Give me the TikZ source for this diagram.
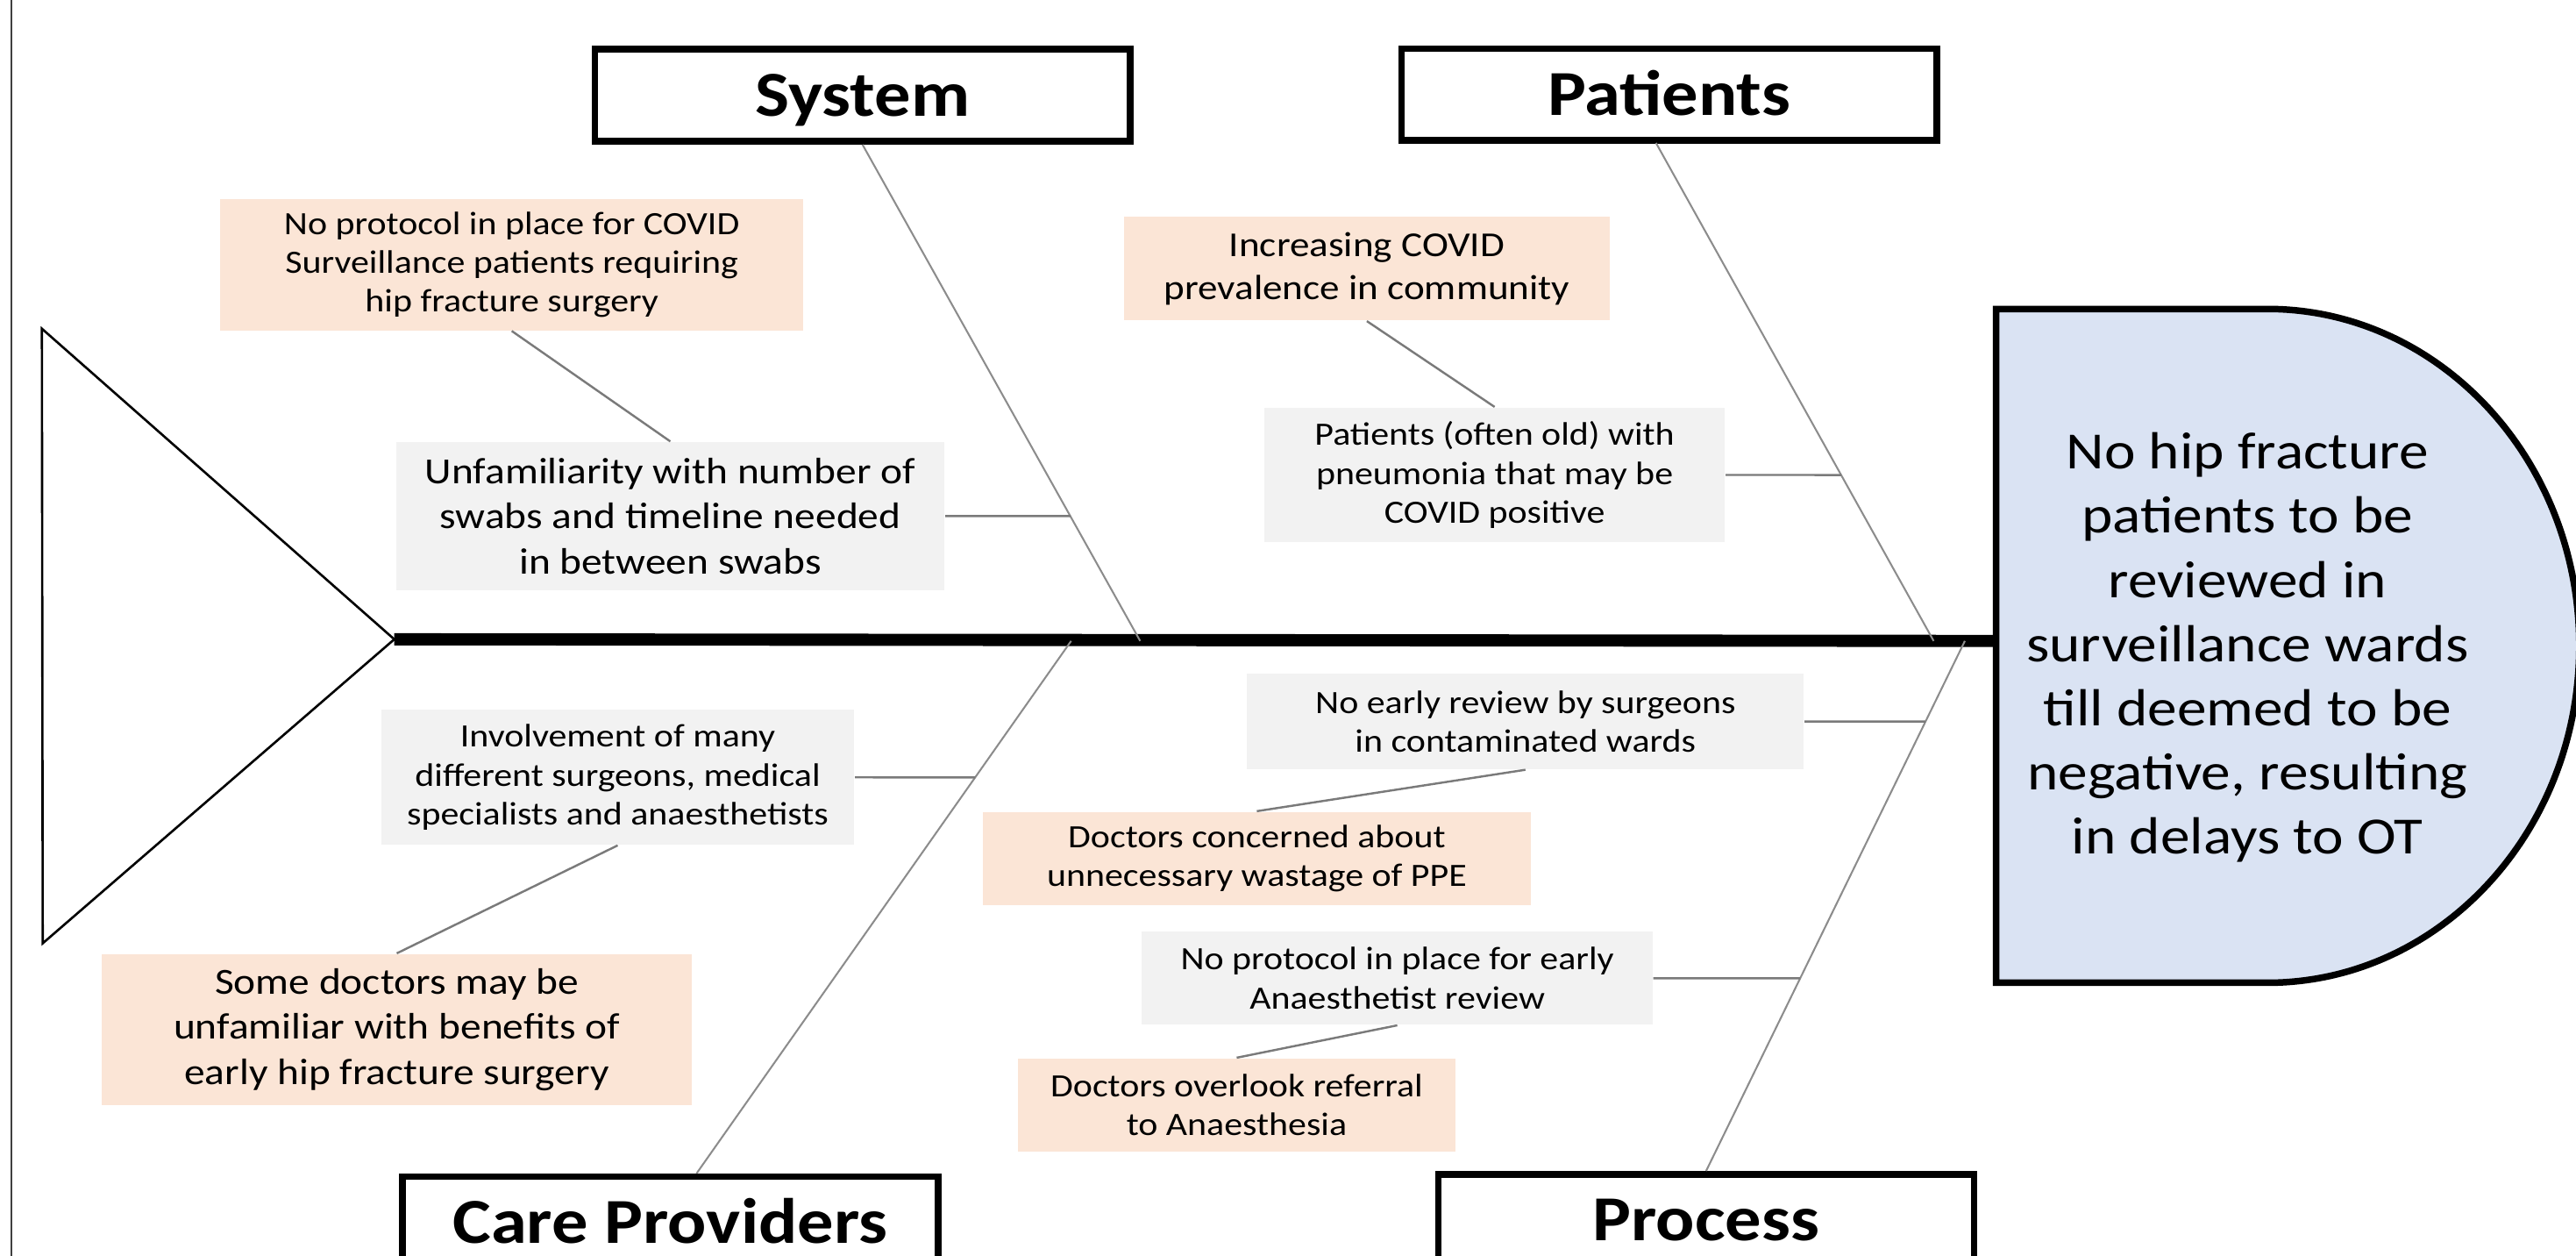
\documentclass[tikz,border=0pt]{standalone}
\usepackage{fontspec}
\setmainfont{Carlito}[FakeStretch=1.13]
\definecolor{peach}{HTML}{FBE5D6}
\definecolor{lightbg}{HTML}{F2F2F2}
\definecolor{resblue}{HTML}{DAE3F3}
\definecolor{bonegrey}{HTML}{8C8C8C}
\definecolor{linkgrey}{HTML}{7A7A7A}
\begin{document}
\begin{tikzpicture}[x=0.5pt,y=-0.5pt,
  cause/.style={inner sep=0pt, align=center, font=\fontsize{9.9}{11.8}\selectfont},
  causebig/.style={cause, font=\fontsize{11.2}{13.75}\selectfont},
  causemid/.style={cause, font=\fontsize{10.65}{13}\selectfont},
  peachbox/.style={fill=peach},
  greybox/.style={fill=lightbg},
  catbox/.style={draw=black, line width=2pt, fill=white, minimum width=163pt, minimum height=28pt, inner sep=0pt, text height=12.6pt, text depth=0pt, font=\fontsize{19.5}{23}\selectfont\bfseries},
  bone/.style={draw=bonegrey, line width=0.55pt},
  link/.style={draw=linkgrey, line width=0.65pt}]
\useasboundingbox (0,0) rectangle (1568,764);
\clip (0,0) rectangle (1568,764);

% frame line on the left
\draw[line width=0.6pt, black!75] (7,0) -- (7,764);

% fish tail and spine
\coordinate (tailTop) at (25.5,200);
\coordinate (tail) at (240,389);
\coordinate (tailBot) at (26,574);
\coordinate (resL) at (1214,390);
\draw[line width=0.7pt, line join=miter] (tailTop) -- (tail) -- (tailBot) -- cycle;
\draw[line width=3.7pt] (tail) -- (resL);

% result (head)
\draw[line width=2pt, fill=resblue] (1215,188) -- (1380,188)
   arc[start angle=90, end angle=-90, x radius=95pt, y radius=102.5pt]
   -- (1215,598) -- cycle;
\node[inner sep=0pt, align=center, font=\fontsize{15.9}{19.5}\selectfont] (res) at (1368,394)
  {No hip fracture\\patients to be\\reviewed in\\surveillance wards\\till deemed to be\\negative, resulting\\in delays to OT};

% category boxes
\node[catbox] (sys) at (525,58) {System};
\node[catbox] (pat) at (1016,57.5) {Patients};
\node[catbox] (cp) at (408,744) {Care Providers};
\node[catbox] (pro) at (1038.5,742.5) {Process};

% bones
\coordinate (sysEnd) at (694,390);
\coordinate (patStart) at (1008,87);
\coordinate (patEnd) at (1177,390);
\coordinate (cpStart) at (424,714);
\coordinate (cpEnd) at (652,390);
\coordinate (proEnd) at (1196,390);
\draw[bone] (sys.south) -- (sysEnd);
\draw[bone] (patStart) -- (patEnd);
\draw[bone] (cpStart) -- (cpEnd);
\draw[bone] (pro.north) -- (proEnd);

% cause boxes
\node[cause, peachbox, minimum width=177.5pt, minimum height=40pt] (A) at (311.5,161)
  {No protocol in place for COVID\\Surveillance patients requiring\\hip fracture surgery};
\node[causebig, greybox, minimum width=167pt, minimum height=45pt] (B) at (408,314)
  {Unfamiliarity with number of\\swabs and timeline needed\\in between swabs};
\node[causemid, peachbox, minimum width=148pt, minimum height=31.5pt] (C) at (832,163.5)
  {Increasing COVID\\prevalence in community};
\node[cause, greybox, minimum width=140.25pt, minimum height=41pt] (D) at (909.75,289)
  {Patients (often old) with\\pneumonia that may be\\COVID positive};
\node[cause, greybox, minimum width=169.5pt, minimum height=29pt] (E) at (928.5,439)
  {No early review by surgeons\\in contaminated wards};
\node[cause, peachbox, minimum width=167pt, minimum height=28.5pt] (F) at (765,522.5)
  {Doctors concerned about\\unnecessary wastage of PPE};
\node[cause, greybox, minimum width=155.5pt, minimum height=28.25pt] (G) at (850.5,595.25)
  {No protocol in place for early\\Anaesthetist review};
\node[cause, peachbox, minimum width=133.25pt, minimum height=28.5pt] (H) at (752.75,672.5)
  {Doctors overlook referral\\to Anaesthesia};
\node[cause, greybox, minimum width=144pt, minimum height=41pt] (I) at (376,473)
  {Involvement of many\\different surgeons, medical\\specialists and anaesthetists};
\node[causebig, peachbox, minimum width=179.5pt, minimum height=46pt] (J) at (241.5,626.5)
  {Some doctors may be\\unfamiliar with benefits of\\early hip fracture surgery};

% links between causes
\draw[link] (A.south) -- (B.north);
\draw[link] (C.south) -- (D.north);
\draw[link] (E.south) -- (F.north);
\draw[link] (G.south) -- (H.north);
\draw[link] (I.south) -- (J.north);

% links from causes to bones
\draw[link] (B.east) -- (intersection of B.west--B.east and sys.south--sysEnd);
\draw[link] (D.east) -- (intersection of D.west--D.east and patStart--patEnd);
\draw[link] (E.east) -- (intersection of E.west--E.east and pro.north--proEnd);
\draw[link] (G.east) -- (intersection of G.west--G.east and pro.north--proEnd);
\draw[link] (I.east) -- (intersection of I.west--I.east and cpStart--cpEnd);
\end{tikzpicture}
\end{document}
